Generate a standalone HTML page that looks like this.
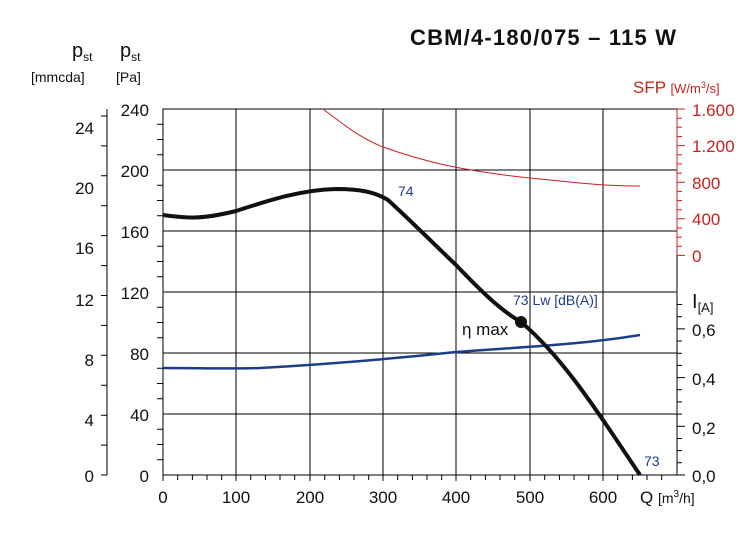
<!DOCTYPE html>
<html><head><style>body{margin:0;background:#fff}svg{display:block;font-family:"Liberation Sans",sans-serif}</style></head><body>
<svg width="752" height="535" viewBox="0 0 752 535" xmlns="http://www.w3.org/2000/svg">
<g stroke="#000" stroke-width="1" fill="none">
<rect x="163" y="109" width="514" height="366"/>
<path d="M236 109V475M310 109V475M383 109V475M456 109V475M530 109V475M603 109V475"/>
<path d="M163 170H677M163 231H677M163 292H677M163 353H677M163 414H677"/>
<path d="M107 109V475"/>
<path d="M163 124.2h-6M163 139.5h-6M163 154.7h-6M163 185.2h-6M163 200.5h-6M163 215.7h-6M163 246.2h-6M163 261.5h-6M163 276.7h-6M163 307.2h-6M163 322.5h-6M163 337.7h-6M163 368.2h-6M163 383.5h-6M163 398.7h-6M163 429.2h-6M163 444.5h-6M163 459.7h-6"/>
<path d="M107 475h-6M107 445.1h-6M107 415.2h-6M107 385.2h-6M107 355.3h-6M107 325.4h-6M107 295.5h-6M107 265.6h-6M107 235.6h-6M107 205.7h-6M107 175.8h-6M107 145.9h-6M107 116h-6"/>
<path d="M163 475v6M177.7 475v5M192.4 475v5M207 475v5M221.7 475v5M236 475v6M250.7 475v5M265.4 475v5M280 475v5M294.7 475v5M310 475v6M324.7 475v5M339.4 475v5M354 475v5M368.7 475v5M383 475v6M397.7 475v5M412.4 475v5M427 475v5M441.7 475v5M456 475v6M470.7 475v5M485.4 475v5M500 475v5M514.7 475v5M530 475v6M544.7 475v5M559.4 475v5M574 475v5M588.7 475v5M603 475v6M617.7 475v5M632.4 475v5M647 475v5M661.7 475v5"/>
<path d="M677 475h8M677 462.8h5M677 450.6h5M677 438.5h5M677 426.3h8M677 414.1h5M677 401.9h5M677 389.7h5M677 377.6h8M677 365.4h5M677 353.2h5M677 341h5M677 328.9h8M677 316.7h5M677 304.5h5"/>
</g>
<g stroke="#c8201e" stroke-width="1" fill="none">
<path d="M677 109V255"/>
<path d="M677 109h8M677 118.2h5M677 127.3h5M677 136.5h5M677 145.6h8M677 154.8h5M677 163.9h5M677 173.1h5M677 182.2h8M677 191.4h5M677 200.5h5M677 209.7h5M677 218.8h8M677 228h5M677 237.1h5M677 246.3h5M677 255.4h8"/>
<path d="M323 109C340 122 360 138 383 147C420 160 455 170 530 178C570 182 600 186 640 186"/>
</g>
<path d="M163 368C200 368 230 369 260 368C330 364 400 358 456 352C520 347 580 345 640 335" stroke="#1e3c8c" stroke-width="2.5" fill="none"/>
<path d="M163 215C185 218 200 220 236 211C270 200 300 190 336 189C360 189 375 192 388 200C410 220 435 245 456 265C480 290 500 310 521 322C560 355 590 400 640 475" stroke="#111" stroke-width="4" fill="none"/>
<circle cx="521" cy="322" r="6" fill="#111"/>
<g font-size="17" fill="#111" text-anchor="end">
<text x="149" y="116">240</text><text x="149" y="177">200</text><text x="149" y="238">160</text><text x="149" y="299">120</text><text x="149" y="360">80</text><text x="149" y="421">40</text><text x="149" y="482">0</text>
<text x="94" y="134">24</text><text x="94" y="194">20</text><text x="94" y="254">16</text><text x="94" y="306">12</text><text x="94" y="366">8</text><text x="94" y="426">4</text><text x="94" y="482">0</text>
</g>
<g font-size="17" fill="#111" text-anchor="middle">
<text x="163" y="503">0</text><text x="236" y="503">100</text><text x="310" y="503">200</text><text x="383" y="503">300</text><text x="456" y="503">400</text><text x="530" y="503">500</text><text x="603" y="503">600</text>
</g>
<g font-size="17" fill="#111">
<text x="692" y="482">0,0</text><text x="692" y="434">0,2</text><text x="692" y="385">0,4</text><text x="692" y="336">0,6</text>
<text x="692" y="308" font-size="20">I<tspan font-size="13" dy="4">[A]</tspan></text>
<text x="640" y="503">Q <tspan font-size="14">[m</tspan><tspan font-size="10" dy="-6">3</tspan><tspan font-size="14" dy="6">/h]</tspan></text>
<text x="462" y="335">η max</text>
<text x="72" y="57" font-size="20">p<tspan font-size="12" dy="4">st</tspan></text>
<text x="120" y="57" font-size="20">p<tspan font-size="12" dy="4">st</tspan></text>
<text x="31" y="82" font-size="14">[mmcda]</text><text x="116" y="82" font-size="14">[Pa]</text>
<text x="410" y="45" font-size="22" font-weight="bold" textLength="266" lengthAdjust="spacing">CBM/4-180/075 – 115 W</text>
</g>
<g font-size="17" fill="#c8201e">
<text x="692" y="116">1.600</text><text x="692" y="152">1.200</text><text x="692" y="189">800</text><text x="692" y="225">400</text><text x="692" y="262">0</text>
<text x="633" y="93">SFP <tspan font-size="13">[W/m</tspan><tspan font-size="9" dy="-5">3</tspan><tspan font-size="13" dy="5">/s]</tspan></text>
</g>
<g font-size="14" fill="#1e3c8c">
<text x="398" y="196">74</text><text x="513" y="305">73 Lw [dB(A)]</text><text x="644" y="466">73</text>
</g>
</svg>
</body></html>
